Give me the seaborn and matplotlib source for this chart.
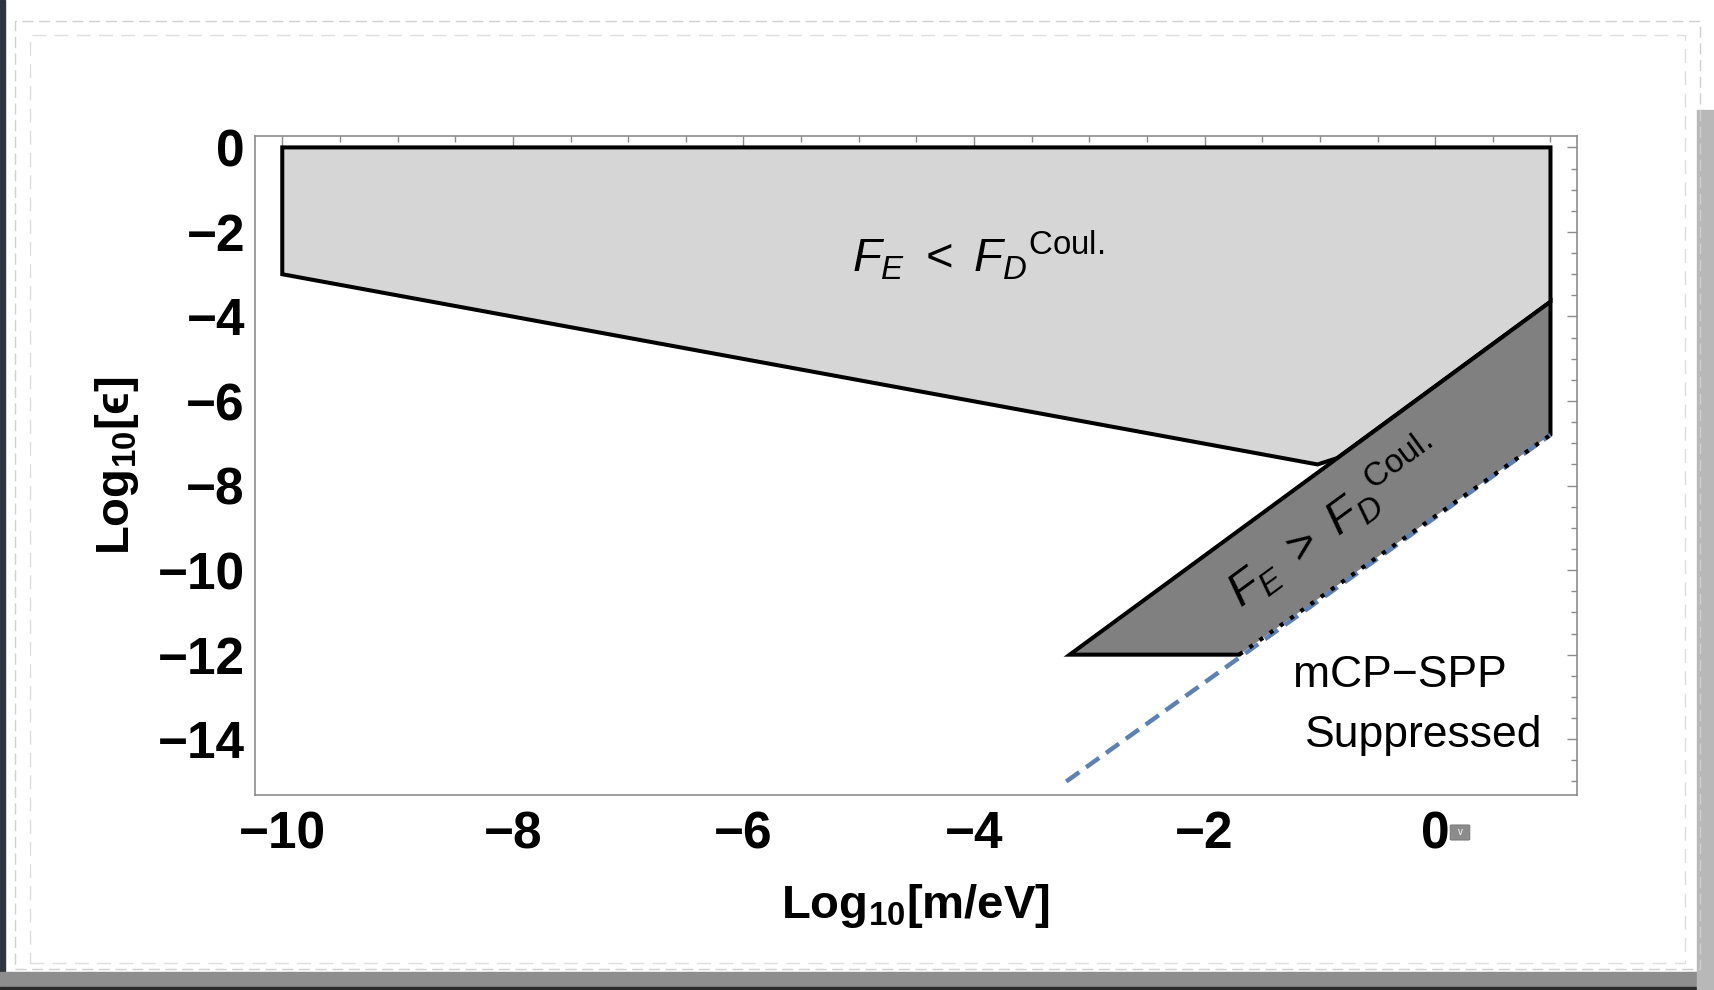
import numpy as np
import matplotlib
matplotlib.use("Agg")
import matplotlib.pyplot as plt
import seaborn as sns
from matplotlib.patches import Rectangle, FancyBboxPatch
from matplotlib.ticker import MultipleLocator

# region where F_E < F_D^Coul. (light grey)
light_x = [-10, 1, 1, -0.85, -1.02, -10]
light_y = [0, 0, -3.65, -7.35, -7.5, -3]

# region where F_E > F_D^Coul. (dark grey)
dark_x = [1, -3.17, -1.7, 1]
dark_y = [-3.65, -12, -12, -6.8]

# mCP-SPP suppression boundary (dashed)
bound_x = [-3.2, 1.0]
bound_y = [-15.0, -6.8]

x_ticks = [-10, -8, -6, -4, -2, 0]
y_ticks = [0, -2, -4, -6, -8, -10, -12, -14]

sns.set_theme(style="white")
plt.rcParams["font.family"] = ["Liberation Sans", "DejaVu Sans"]
plt.rcParams["mathtext.fontset"] = "custom"
plt.rcParams["mathtext.rm"] = "Liberation Sans"
plt.rcParams["mathtext.it"] = "Liberation Sans:italic"
plt.rcParams["mathtext.bf"] = "Liberation Sans:bold"
plt.rcParams["text.color"] = "black"
plt.rcParams["axes.labelcolor"] = "black"
plt.rcParams["xtick.labelcolor"] = "black"
plt.rcParams["ytick.labelcolor"] = "black"

fig = plt.figure(figsize=(17.15, 9.9), dpi=100, facecolor="white")
W, H = 1715, 990

# torn paper look around the screenshot
fig.patches.append(Rectangle((0, 0), 5 / W, 1, transform=fig.transFigure,
                             color="#30343c", zorder=0))
fig.patches.append(Rectangle((0, 0), 1, 18 / H, transform=fig.transFigure,
                             color="#8e8e8e", zorder=0))
fig.patches.append(Rectangle((0, 0), 1, 3 / H, transform=fig.transFigure,
                             color="#2a2a2a", zorder=0))
fig.patches.append(Rectangle((1697 / W, 0), 18 / W, 880 / H, transform=fig.transFigure,
                             color="#b8b8b8", zorder=0))
fig.patches.append(Rectangle((15 / W, 21 / H), 1685 / W, 948 / H, transform=fig.transFigure,
                             fill=False, ec="#d0d0d0", lw=1, ls=(0, (8, 4)), zorder=0))
fig.patches.append(Rectangle((30 / W, 27 / H), 1655 / W, 928 / H, transform=fig.transFigure,
                             fill=False, ec="#dedede", lw=1, ls=(0, (10, 6)), zorder=0))

ax = fig.add_axes([254.6 / W, 1 - 795 / H, (1577 - 254.6) / W, (795 - 136) / H])
ax.set_facecolor("white")

ax.fill(light_x, light_y, facecolor="#d6d6d6", edgecolor="black", lw=2.9,
        joinstyle="miter", zorder=2)
ax.fill(dark_x, dark_y, facecolor="#808080", edgecolor="none", zorder=2)
ax.plot([dark_x[2], dark_x[1], dark_x[0], dark_x[3]],
        [dark_y[2], dark_y[1], dark_y[0], dark_y[3]],
        color="black", lw=2.9, solid_joinstyle="miter", zorder=3)

sns.lineplot(x=bound_x, y=bound_y, ax=ax, color="#5e81b5", zorder=4)
ax.lines[-1].set_linewidth(3.2)
ax.lines[-1].set_linestyle((0, (3.6, 1.9)))
sns.lineplot(x=[dark_x[2], dark_x[3]], y=[dark_y[2], dark_y[3]], ax=ax,
             color="black", zorder=5)
ax.lines[-1].set_linewidth(3.0)
ax.lines[-1].set_linestyle((0, (1, 2.0)))

ax.set_xlim(-10.24, 1.23)
ax.set_ylim(-15.32, 0.27)
ax.xaxis.set_major_locator(MultipleLocator(2))
ax.xaxis.set_minor_locator(MultipleLocator(0.5))
ax.yaxis.set_major_locator(MultipleLocator(2))
ax.yaxis.set_minor_locator(MultipleLocator(0.5))
ax.set_xticks(x_ticks)
ax.set_yticks(y_ticks)
ax.set_xticklabels([str(t).replace("-", "\u2212") for t in x_ticks])
ax.set_yticklabels([str(t).replace("-", "\u2212") for t in y_ticks])

for s in ax.spines.values():
    s.set_color("#8c8c8c")
    s.set_linewidth(1.2)
ax.tick_params(which="both", direction="in", top=True, right=True,
               color="#8c8c8c", width=1.0)
ax.tick_params(which="major", length=7, labelsize=37)
ax.tick_params(axis="x", which="major", pad=11)
ax.tick_params(axis="y", which="major", pad=7)
ax.tick_params(which="minor", length=4)
for lab in ax.get_xticklabels() + ax.get_yticklabels():
    lab.set_fontweight("bold")

ax.set_xlabel(r"Log$\mathbf{_{10}}$[m/eV]", fontsize=34, fontweight="bold", labelpad=16)
ax.set_ylabel("Log$\\mathbf{_{10}}$[\u03f5]", fontsize=34, fontweight="bold", labelpad=12)

ax.text(-3.96, -2.55, r"$F_E\ <\ F_D{}^{\mathrm{Coul.}}$", fontsize=34,
        ha="center", va="center", zorder=6)
ax.text(-0.88, -8.85, r"$F_E\ >\ F_D{}^{\mathrm{Coul.}}$", fontsize=34,
        ha="center", va="center", rotation=36.2, rotation_mode="anchor", zorder=6)
ax.text(-0.31, -12.76, "mCP\u2212SPP", fontsize=32, ha="center", va="baseline", zorder=6)
ax.text(-0.10, -14.18, "Suppressed", fontsize=32, ha="center", va="baseline", zorder=6)

# little grey dropdown button next to the last tick label
fig.patches.append(FancyBboxPatch((1452 / W, 1 - 839 / H), 16 / W, 13 / H,
                                  boxstyle="round,pad=0.001", transform=fig.transFigure,
                                  fc="#8c8c8c", ec="#7a7a7a", lw=0.8, zorder=5))
fig.text(1460 / W, 1 - 832 / H, "v", color="white", fontsize=7,
         ha="center", va="center", zorder=6)

fig.savefig("out.png", dpi=100, facecolor=fig.get_facecolor())
